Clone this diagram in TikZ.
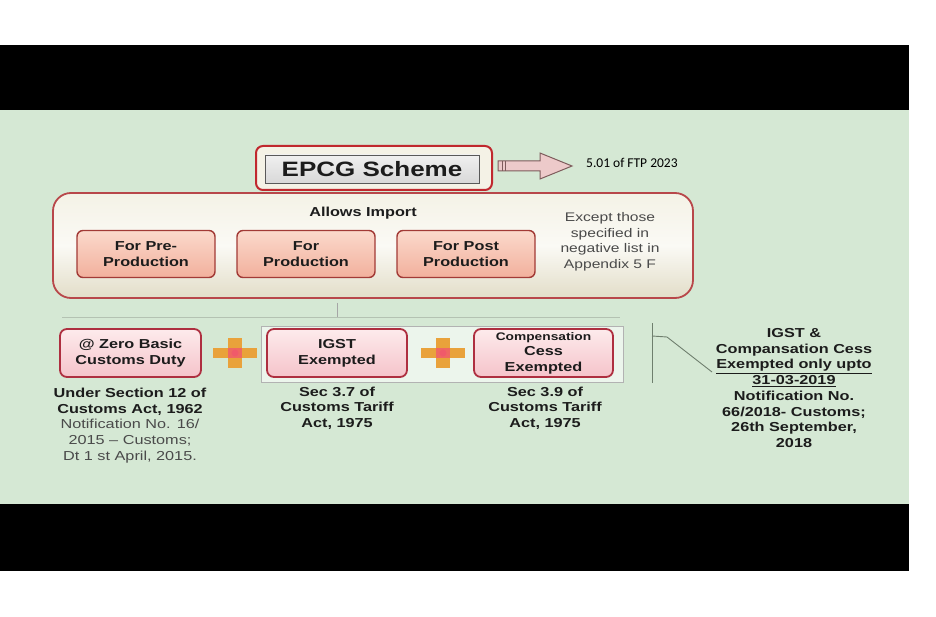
\documentclass[tikz,border=0pt]{standalone}
\usepackage{fontspec}
\setmainfont{Liberation Sans}[FakeStretch=1.25]
\newfontfamily\calfont{Carlito}
\usetikzlibrary{calc}
\definecolor{bggreen}{HTML}{D5E8D4}
\definecolor{txt}{HTML}{1C1C1C}
\definecolor{txtgray}{HTML}{4A4A4A}
\definecolor{redline}{HTML}{C0282E}
\definecolor{boxred}{HTML}{B8474A}
\definecolor{salmonT}{HTML}{FBD9CC}
\definecolor{salmonB}{HTML}{F2B09C}
\definecolor{salmonD}{HTML}{A23A36}
\definecolor{pinkT}{HTML}{FDEBEC}
\definecolor{pinkB}{HTML}{F5C3CA}
\definecolor{pinkD}{HTML}{AE2F40}
\definecolor{creamT}{HTML}{F4F2E6}
\definecolor{creamB}{HTML}{E2DDC8}
\definecolor{plusor}{HTML}{E9A23B}
\definecolor{pluscen}{HTML}{F05A6A}
\definecolor{arrowfill}{HTML}{EDCACA}
\definecolor{arrowdraw}{HTML}{7E5C5C}
\definecolor{faint}{HTML}{B4C2B2}
\definecolor{calloutc}{HTML}{6F7F6E}
\begin{document}
\begin{tikzpicture}[x=1pt,y=-1pt,
  every node/.style={text=txt},
  bodyfont/.style={font=\fontsize{13}{15.7}\selectfont\bfseries},
  epcgout/.style={draw=redline, line width=2pt, rounded corners=7pt, fill=creamT,
     minimum width=236pt, minimum height=44pt, inner sep=0pt},
  epcgin/.style={draw=gray!70!black, line width=0.8pt, top color=gray!12, bottom color=gray!30,
     minimum width=214pt, minimum height=28pt, inner sep=0pt,
     font=\fontsize{20.8}{24}\selectfont\bfseries},
  bigbox/.style={draw=boxred, line width=1.8pt, rounded corners=18pt,
     top color=creamT, bottom color=creamB, middle color=white!60!creamT,
     minimum width=640pt, minimum height=105pt, inner sep=0pt},
  salmonbox/.style={draw=salmonD, line width=1.4pt, rounded corners=6pt,
     top color=salmonT, bottom color=salmonB, minimum width=138pt, minimum height=47pt,
     align=center, inner sep=0pt, bodyfont},
  pinkbox/.style={draw=pinkD, line width=1.8pt, rounded corners=7pt,
     top color=pinkT, bottom color=pinkB, minimum height=48pt,
     align=center, inner sep=0pt, bodyfont},
  enclosure/.style={draw=gray!60, line width=0.8pt, fill=white!55!bggreen,
     minimum width=362pt, minimum height=56pt, inner sep=0pt},
  lbl/.style={align=center, inner sep=0pt, bodyfont},
  calloutline/.style={draw=calloutc, line width=0.9pt},
  plussign/.pic={
     \fill[plusor] (-22,-5) rectangle (22,5);
     \fill[plusor] (-7,-15) rectangle (7,15);
     \fill[pluscen!80!plusor] (-7,-5) rectangle (7,5);
     \fill[pluscen] (0,0) circle (3.5pt);
  }
]
\useasboundingbox (0,0) rectangle (936,617);
\fill[white] (0,0) rectangle (936,617);
\fill[black] (0,45) rectangle (909,110);
\fill[bggreen] (0,110) rectangle (909,504);
\fill[black] (0,504) rectangle (909,571);

% EPCG Scheme
\node[epcgout] (epcg) at (374,168) {};
\node[epcgin] (epcgin) at (372,169) {EPCG Scheme};

% block arrow
\coordinate (arrS) at (498,166);
\draw[draw=arrowdraw, fill=arrowfill, line width=1pt, line join=miter]
  (arrS) ++(0,-5) -- ++(42,0) -- ++(0,-8) -- ++(32,13) -- ++(-32,13) -- ++(0,-8) -- ++(-42,0) -- cycle;
\draw[arrowdraw, line width=1pt] ($(arrS)+(4,-5)$) -- ++(0,10);
\draw[arrowdraw, line width=1pt] ($(arrS)+(7,-5)$) -- ++(0,10);
\node[anchor=west, inner sep=0pt, text=black, font=\calfont\fontsize{13.5}{16}\selectfont] (ftp) at (586,163) {5.01 of FTP 2023};

% Allows import box
\node[bigbox] (imp) at (373,245.5) {};
\node[inner sep=0pt, bodyfont] (allow) at (363,213) {Allows Import};
\node[salmonbox] (pre) at (146,254) {For Pre-\\Production};
\node[salmonbox] (prod) at (306,254) {For\\Production};
\node[salmonbox] (post) at (466,254) {For Post\\Production};
\node[align=center, inner sep=0pt, text=txtgray, font=\fontsize{12.5}{15.5}\selectfont] (except) at (610,242)
  {Except those\\specified in\\negative list in\\Appendix 5 F};

% connector stub and faint line
\coordinate (stubend) at (337,317);
\coordinate (faintL) at (62,317);
\coordinate (faintR) at (620,317);
\draw[faint, line width=1pt] (faintL) -- (faintR);
\draw[gray!70, line width=1pt] ($(imp.south -| stubend)+(0,4)$) -- (stubend);

% lower row
\node[enclosure] (encl) at (442,354) {};
\node[pinkbox, minimum width=141pt] (zero) at (130.5,353) {@ Zero Basic\\Customs Duty};
\node[pinkbox, minimum width=140pt] (igst) at (337,353) {IGST\\Exempted};
\node[pinkbox, minimum width=139pt, font=\fontsize{13}{15.5}\selectfont\bfseries] (comp) at (543.5,353)
  {{\fontsize{11}{15.5}\selectfont Compensation}\\Cess\\Exempted};
\pic at (235,353) {plussign};
\pic at (443,353) {plussign};

% labels below
\node[lbl] (zerotxt) at (130,425.5)
  {Under Section 12 of\\Customs Act, 1962\\{\mdseries\color{txtgray}Notification No. 16/}\\{\mdseries\color{txtgray}2015 – Customs;}\\{\mdseries\color{txtgray}Dt 1 st April, 2015.}};
\node[lbl] (sec37) at (337,408) {Sec 3.7 of\\Customs Tariff\\Act, 1975};
\node[lbl] (sec39) at (545,408) {Sec 3.9 of\\Customs Tariff\\Act, 1975};

% right note with callout
\node[lbl] (note) at (794,388)
  {IGST \&\\Compansation Cess\\\underline{Exempted only upto}\\\underline{31-03-2019}\\Notification No.\\66/2018- Customs;\\26th September,\\2018};
\coordinate (barT) at (652,323);
\coordinate (barB) at (652,383);
\coordinate (bend1) at (652,336);
\coordinate (bend2) at (667,337);
\coordinate (callEnd) at (712,372);
\draw[calloutline] (barT) -- (barB);
\draw[calloutline] (bend1) -- (bend2) -- (callEnd);
\end{tikzpicture}
\end{document}
